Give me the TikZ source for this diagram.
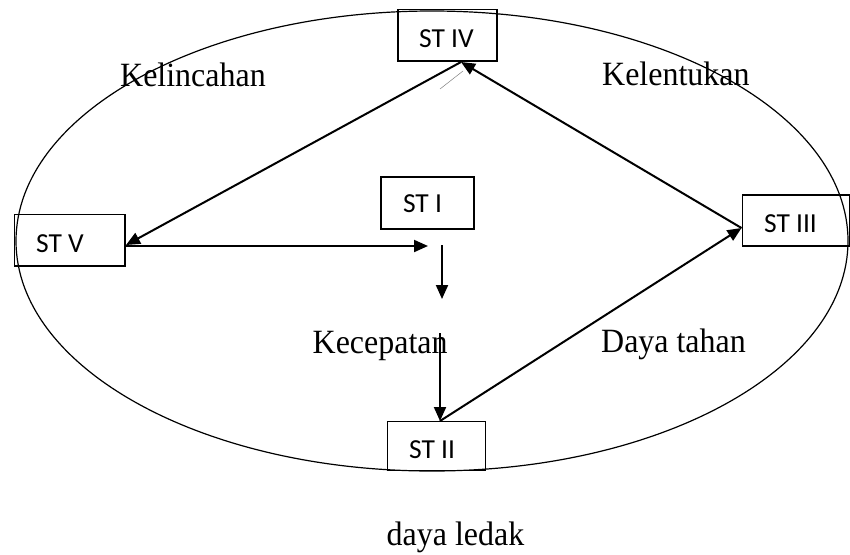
\documentclass[tikz,border=0pt]{standalone}
\usepackage{fontspec}
\setmainfont{Liberation Serif}
\newfontfamily\lblfont[FakeStretch=0.94]{Liberation Serif}
\newfontfamily\stfont{Carlito}
\usetikzlibrary{arrows.meta}
\begin{document}
\begin{tikzpicture}[x=1pt,y=-1pt,
  stbox/.style={draw,line width=1.4pt,minimum width=#1,inner sep=0pt,outer sep=0pt},
  sttext/.style={inner sep=0pt,font=\stfont\fontsize{27.5pt}{32pt}\selectfont},
  lbl/.style={inner sep=0pt,anchor=base west,font=\lblfont\fontsize{34pt}{38pt}\selectfont},
  arr/.style={line width=2pt,-{Triangle[length=14pt,width=12pt]}}]
\useasboundingbox (0,0) rectangle (850,554);
\draw[line width=1.2pt] (432,241) ellipse [x radius=416pt, y radius=230pt];
% boxes
\node[stbox=99pt,minimum height=51.5pt] (st4) at (447.5,35.25) {};
\node[stbox=110.5pt,minimum height=51.5pt] (st5) at (69.85,240.25) {};
\node[stbox=93pt,minimum height=52pt] (st1) at (427.5,203) {};
\node[stbox=107.5pt,minimum height=51pt] (st3) at (796.25,220.5) {};
\node[stbox=98pt,minimum height=49pt] (st2) at (436.5,446) {};
% box texts
\node[sttext] (t4) at (446.5,39) {ST IV};
\node[sttext] (t5) at (60,244) {ST V};
\node[sttext] (t1) at (422.5,204) {ST I};
\node[sttext] (t3) at (790.5,224) {ST III};
\node[sttext] (t2) at (432,449.5) {ST II};
% labels
\node[lbl] (l1) at (120,86) {Kelincahan};
\node[lbl] (l2) at (602,85.5) {Kelentukan};
\node[lbl] (l3) at (312.5,353) {Kecepatan};
\node[lbl] (l4) at (601,352.5) {Daya tahan};
\node[lbl] (l5) at (386.5,545) {daya ledak};
% connector points
\coordinate (c5e) at (125,246);
\coordinate (cmid) at (428,246);
\coordinate (cv1) at (442,245);
\coordinate (cv2) at (442,299);
\coordinate (cv3) at (440,333);
\coordinate (c2n) at (440,421);
\coordinate (c3w) at (741.5,228);
\coordinate (c4s) at (461,62);
\coordinate (c5t) at (126,245);
\coordinate (g1) at (440,89);
\coordinate (g2) at (463,71);
% arrows
\draw[arr] (c5e) -- (cmid);
\draw[arr] (cv1) -- (cv2);
\draw[arr] (cv3) -- (c2n);
\draw[arr] (c2n) -- (c3w);
\draw[arr] (c3w) -- (c4s);
\draw[arr] (c4s) -- (c5t);
\draw[gray,line width=0.5pt] (g1) -- (g2);
\end{tikzpicture}
\end{document}
